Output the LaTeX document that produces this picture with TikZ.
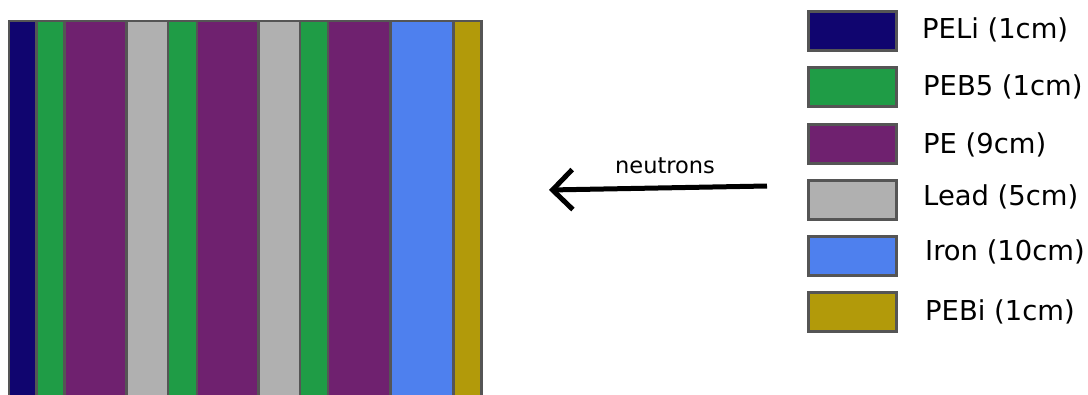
\documentclass[tikz,border=0pt]{standalone}
\usepackage{fontspec}
\setmainfont{DejaVu Sans}
\usetikzlibrary{arrows.meta}
\definecolor{peli}{HTML}{10056F}
\definecolor{peb}{HTML}{1F9C46}
\definecolor{pe}{HTML}{6F216F}
\definecolor{lead}{HTML}{B0B0B0}
\definecolor{iron}{HTML}{4E80EE}
\definecolor{pebi}{HTML}{B29A0A}
\definecolor{edge}{HTML}{555555}
\begin{document}
\begin{tikzpicture}[x=1pt,y=-1pt,
  strip/.style={draw=edge, line width=2.5pt},
  legbox/.style={draw=edge, line width=3pt, minimum width=88pt, minimum height=39pt, inner sep=0pt},
  legtext/.style={anchor=base west, inner sep=0pt, font=\fontsize{27.4}{32}\selectfont},
  flowlabel/.style={anchor=base, inner sep=0pt, font=\fontsize{22.5}{27}\selectfont}]
\useasboundingbox (0,0) rectangle (1088,394);
\clip (0,0) rectangle (1088,394);
% layered shield
\foreach \xa/\xb/\col in {9/36.5/peli, 36.5/64.5/peb, 64.5/126.5/pe, 126.5/168/lead, 168/197/peb, 197/258.5/pe, 258.5/300/lead, 300/328/peb, 328/390.5/pe, 390.5/453.5/iron, 453.5/481.5/pebi}
  \draw[strip, fill=\col] (\xa,21) rectangle (\xb,420);
% legend
\node[legbox, fill=peli] (b1) at (852,31) {};
\node[legbox, fill=peb]  (b2) at (852,87) {};
\node[legbox, fill=pe]   (b3) at (852,144) {};
\node[legbox, fill=lead] (b4) at (852,199.5) {};
\node[legbox, fill=iron] (b5) at (852,255.5) {};
\node[legbox, fill=pebi] (b6) at (852,312) {};
\node[legtext] (t1) at (922,38) {PELi (1cm)};
\node[legtext] (t2) at (923,95) {PEB5 (1cm)};
\node[legtext] (t3) at (923,153) {PE (9cm)};
\node[legtext] (t4) at (923,205) {Lead (5cm)};
\node[legtext] (t5) at (925,260) {Iron (10cm)};
\node[legtext] (t6) at (925,320) {PEBi (1cm)};
% arrow
\coordinate (src) at (767,186);
\coordinate (dst) at (549,190);
\draw[line width=5pt, -{Straight Barb[length=20pt, width=40pt]}] (src) -- (dst);
\node[flowlabel] (lab) at (665,173) {neutrons};
\end{tikzpicture}
\end{document}
